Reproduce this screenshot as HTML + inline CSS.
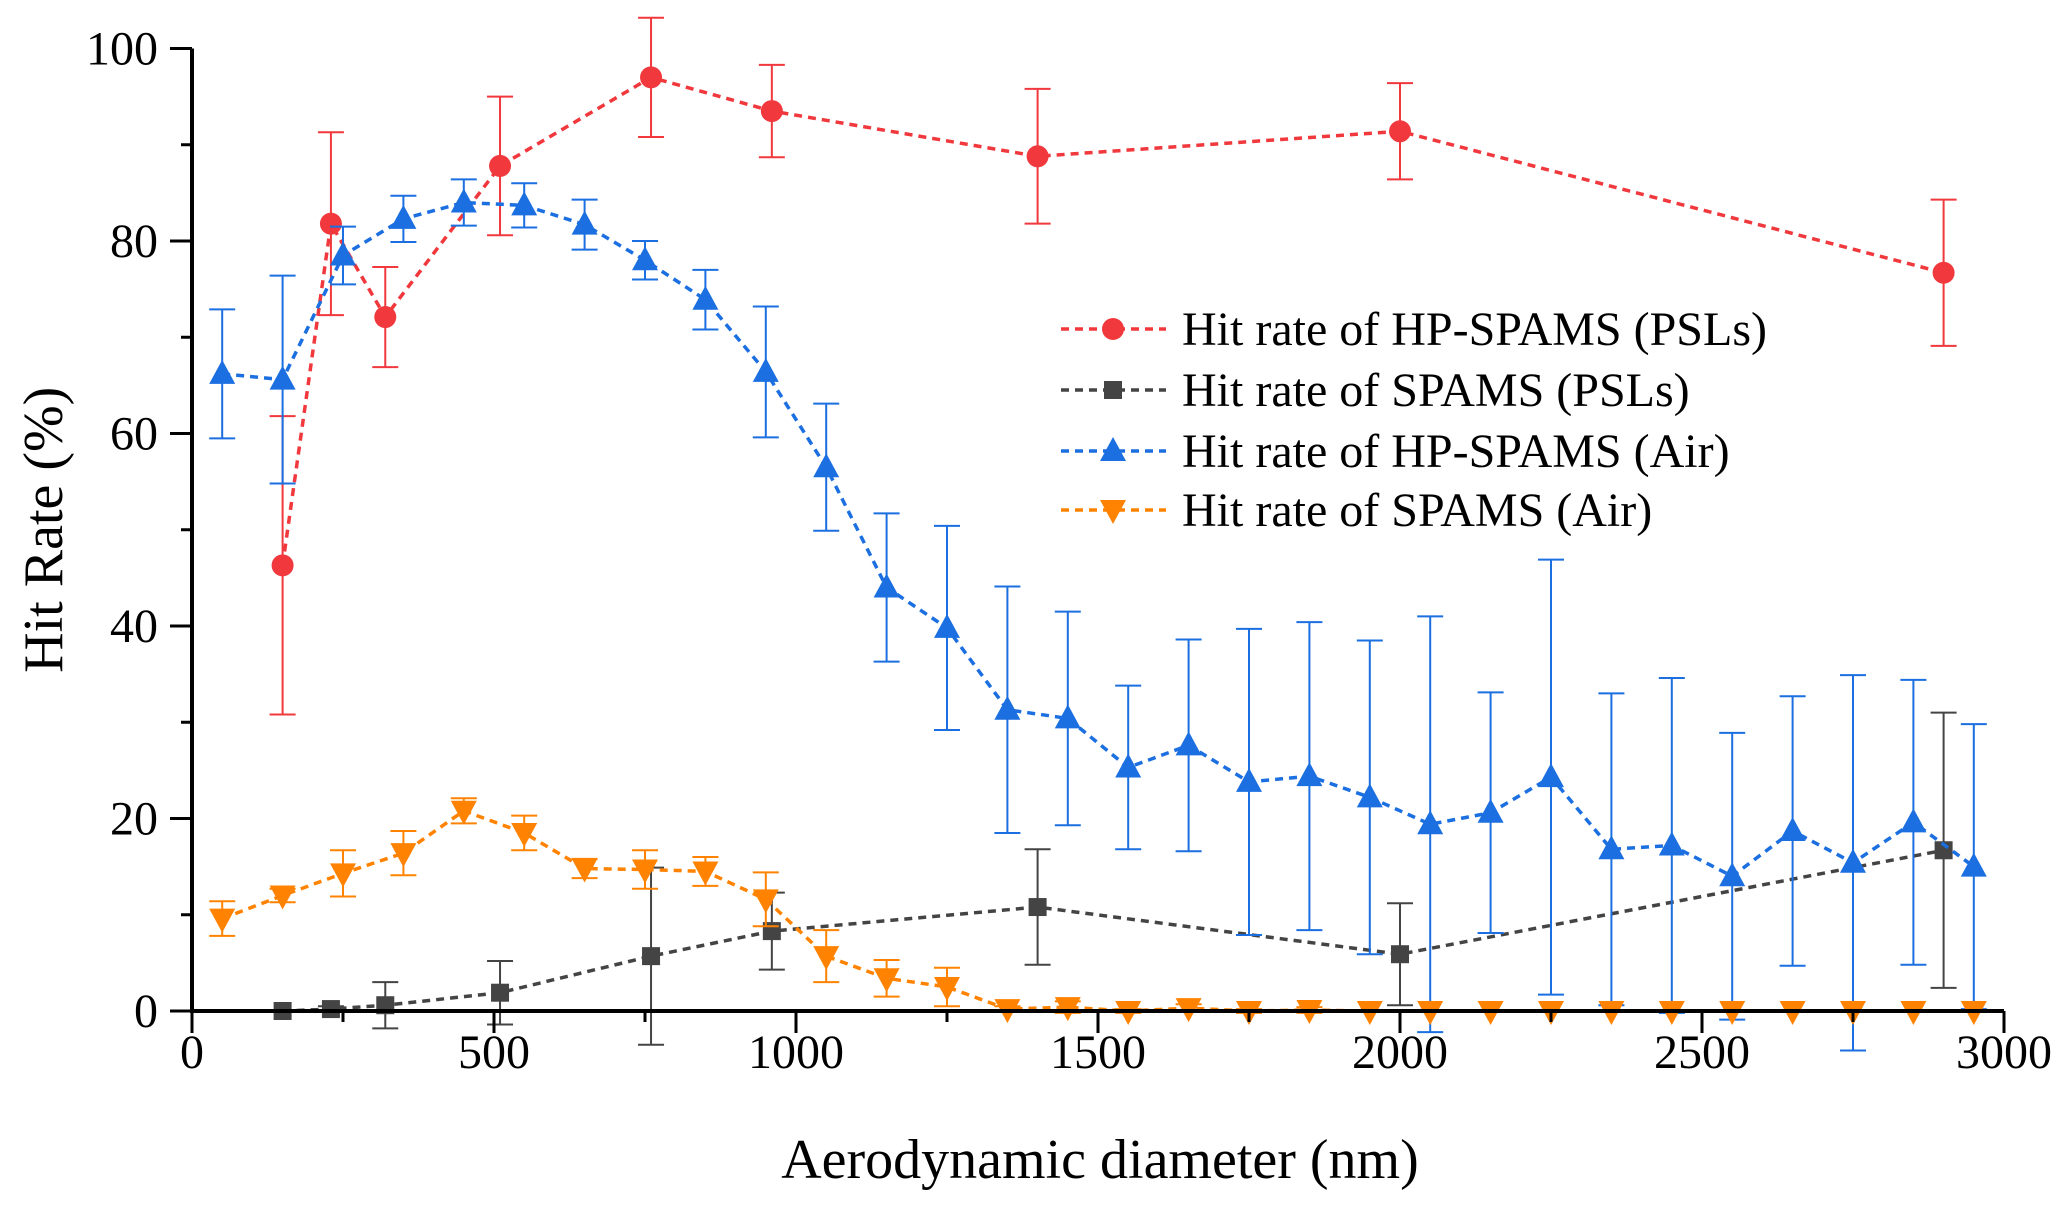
<!DOCTYPE html>
<html><head><meta charset="utf-8"><style>
body{margin:0;background:#fff}
svg{display:block;font-family:"Liberation Serif",serif}
svg text{font-family:"Liberation Serif",serif}
</style></head><body>
<svg id="chart" width="2067" height="1206" viewBox="0 0 2067 1206" xmlns="http://www.w3.org/2000/svg">
</svg>
<script>
const hpPslX=[150,230,320,510,760,960,1400,2000,2900];
const hpPslY=[46.3,81.8,72.1,87.8,97,93.5,88.8,91.4,76.7];
const hpPslE=[15.5,9.5,5.2,7.2,6.2,4.8,7,5,7.6];
const spPslX=[150,230,320,510,760,960,1400,2000,2900];
const spPslY=[0,0.2,0.6,1.9,5.7,8.3,10.8,5.9,16.7];
const spPslE=[0,0.3,2.4,3.3,9.2,4,6,5.3,14.3];
const hpAirX=[50,150,250,350,450,550,650,750,850,950,1050,1150,1250,1350,1450,1550,1650,1750,1850,1950,2050,2150,2250,2350,2450,2550,2650,2750,2850,2950];
const hpAirY=[66.2,65.6,78.5,82.3,84,83.7,81.7,78,73.9,66.4,56.5,44,39.8,31.3,30.4,25.3,27.6,23.8,24.4,22.2,19.4,20.6,24.3,16.8,17.2,14,18.7,15.4,19.6,15];
const hpAirE=[6.7,10.8,3,2.4,2.4,2.3,2.6,2,3.1,6.8,6.6,7.7,10.6,12.8,11.1,8.5,11,15.9,16,16.3,21.6,12.5,22.6,16.2,17.4,14.9,14,19.5,14.8,14.8];
const spAirX=[50,150,250,350,450,550,650,750,850,950,1050,1150,1250,1350,1450,1550,1650,1750,1850,1950,2050,2150,2250,2350,2450,2550,2650,2750,2850,2950];
const spAirY=[9.6,12,14.3,16.4,20.8,18.5,14.8,14.7,14.5,11.6,5.7,3.4,2.5,0.2,0.4,0,0.3,0,0.1,0,0,0,0,0,0,0,0,0,0,0];
const spAirE=[1.8,0.7,2.4,2.3,1.3,1.8,1,2,1.5,2.8,2.7,1.9,2,0.3,0.6,0.2,0.4,0.2,0.3,0,0,0,0,0,0,0,0,0,0,0];
const xTicks=[0,500,1000,1500,2000,2500,3000];
const yTicks=[0,20,40,60,80,100];
const legendLabels=["Hit rate of HP-SPAMS (PSLs)","Hit rate of SPAMS (PSLs)","Hit rate of HP-SPAMS (Air)","Hit rate of SPAMS (Air)"];

const X0=192,X1=2004,Y0=1011,Y1=48.5;
const FF='"Liberation Serif", serif';
const sx=v=>X0+(v/3000)*(X1-X0);
const sy=v=>Y0-(v/100)*(Y0-Y1);
const svg=document.getElementById('chart');
const NS='http://www.w3.org/2000/svg';
function mk(tag,attrs,parent){const e=document.createElementNS(NS,tag);for(const k in attrs)e.setAttribute(k,attrs[k]);(parent||svg).appendChild(e);return e;}

function marker(kind,x,y,c,g){
  let e;
  if(kind==='circle'){e=mk('circle',{cx:x,cy:y,r:11,fill:c},g);}
  else if(kind==='square'){e=mk('rect',{x:x-9,y:y-9,width:18,height:18,fill:c},g);}
  else if(kind==='up'){e=mk('polygon',{points:`${x},${y-14} ${x-13},${y+10} ${x+13},${y+10}`,fill:c},g);}
  else {e=mk('polygon',{points:`${x},${y+14} ${x-13},${y-10} ${x+13},${y-10}`,fill:c},g);}
  return e;
}
function series(name,xs,ys,es,color,kind,dash){
  const g=mk('g',{});
  
  
  xs.forEach((v,i)=>{
    if(es[i]>0){
      const x=sx(v),yt=sy(ys[i]+es[i]),yb=sy(ys[i]-es[i]);
      const eb=mk('path',{d:`M${x},${yt}V${yb}M${x-13},${yt}H${x+13}M${x-13},${yb}H${x+13}`,stroke:color,'stroke-width':2,fill:'none'},g);
      
      
    }
  });
  const ln=mk('polyline',{points:xs.map((v,i)=>sx(v)+','+sy(ys[i])).join(' '),fill:'none',stroke:color,'stroke-width':3.5,'stroke-dasharray':dash},g);
  
  
  xs.forEach((v,i)=>{
    const m=marker(kind,sx(v),sy(ys[i]),color,g);
    
    
  });
}
series('hp-spams-psl',hpPslX,hpPslY,hpPslE,'#f0383d','circle','8 6');
series('spams-psl',spPslX,spPslY,spPslE,'#444444','square','8 6');
series('hp-spams-air',hpAirX,hpAirY,hpAirE,'#1b6fe0','up','8 6');
series('spams-air',spAirX,spAirY,spAirE,'#ff8300','down','8 6');

const ax=mk('g',{stroke:'#000','stroke-width':4,fill:'none'});


mk('path',{d:`M${X0},${Y1}V${Y0+2}M${X0-2},${Y0}H${X1}`},ax);
for(let v=0;v<=100;v+=10){const y=sy(v);mk('path',{d:`M${X0-(v%20===0?22:11)},${y}H${X0}`,'stroke-width':3},ax);}
for(let v=0;v<=3000;v+=250){const x=sx(v);mk('path',{d:`M${x},${Y0}V${Y0+(v%500===0?22:11)}`,'stroke-width':3},ax);}
xTicks.forEach(v=>{const t=mk('text',{x:sx(v),y:1068,'font-size':48,'font-family':FF,'text-anchor':'middle',fill:'#000'});t.textContent=v;
});
yTicks.forEach(v=>{const t=mk('text',{x:158,y:sy(v)+16,'font-size':48,'font-family':FF,'text-anchor':'end',fill:'#000'});t.textContent=v;
});
const xt=mk('text',{x:(X0+X1)/2+2,y:1178,'font-size':56,'font-family':FF,'text-anchor':'middle',fill:'#000'});xt.textContent='Aerodynamic diameter (nm)';

const yt=mk('text',{x:0,y:0,'font-size':56,'font-family':FF,'text-anchor':'middle',fill:'#000',transform:`translate(62,${(Y0+Y1)/2}) rotate(-90)`});yt.textContent='Hit Rate (%)';


const lc=['#f0383d','#444444','#1b6fe0','#ff8300'],lk=['circle','square','up','down'],ly=[329,390,451,510];
legendLabels.forEach((s,i)=>{
  const g=mk('g',{});
  
  
  mk('line',{x1:1061,x2:1166,y1:ly[i],y2:ly[i],stroke:lc[i],'stroke-width':3.5,'stroke-dasharray':'8 6'},g);
  marker(lk[i],1113,ly[i],lc[i],g);
  const t=mk('text',{x:1182,y:ly[i]+16,'font-size':48,'font-family':FF,fill:'#000'},g);t.textContent=s;
});
</script>
</body></html>
